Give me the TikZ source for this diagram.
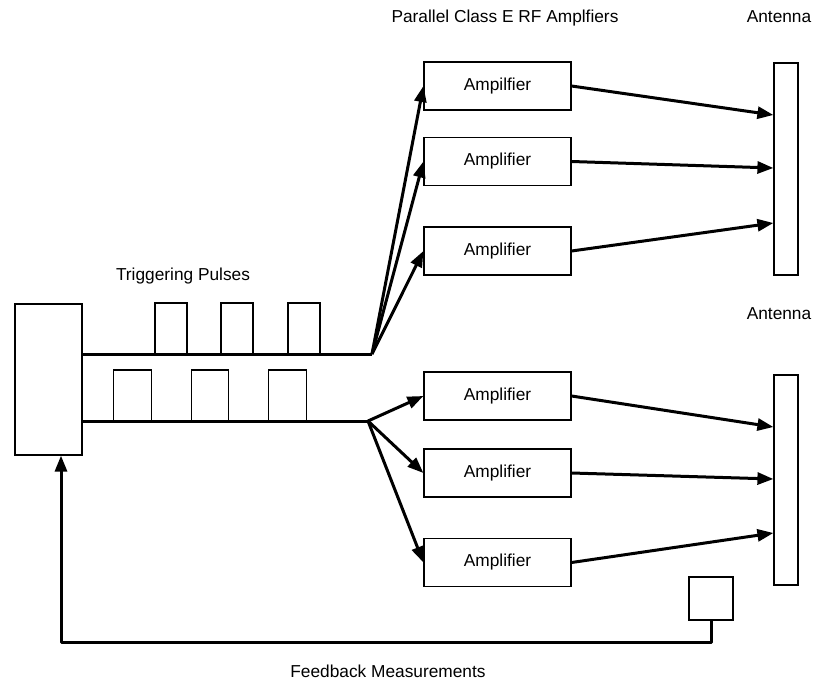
\documentclass[tikz,border=0pt]{standalone}
\usepackage{fontspec}
\setmainfont{Liberation Sans}
\usetikzlibrary{arrows.meta}
\begin{document}
\begin{tikzpicture}[x=1pt, y=-1pt,
    every node/.style={font=\fontsize{17.3}{20}\selectfont},
    box/.style={draw, line width=1.2pt, inner sep=0pt},
    amp/.style={box, minimum width=147pt, minimum height=48pt},
    pulse/.style={box, minimum height=51pt},
    wire/.style={line width=3pt, line join=round},
    label/.style={anchor=base, inner sep=0pt}]
    \useasboundingbox (0,0) rectangle (819,680);

    \node[box, minimum width=67pt, minimum height=151pt] (src) at (48.5,379.5) {};
    \node[amp] (a1) at (497.5,86) {Ampilfier};
    \node[amp] (a2) at (497.5,161.5) {Amplifier};
    \node[amp] (a3) at (497.5,251) {Amplifier};
    \node[amp] (a4) at (497.5,396) {Amplifier};
    \node[amp] (a5) at (497.5,473) {Amplifier};
    \node[amp] (a6) at (497.5,562.5) {Amplifier};
    \node[box, minimum width=24pt, minimum height=212pt] (ant1) at (786,169) {};
    \node[box, minimum width=24pt, minimum height=210pt] (ant2) at (786,480) {};
    \node[box, minimum width=44pt, minimum height=43pt] (fb) at (711,598.5) {};

    \node[pulse, minimum width=32pt] (p1) at (171,328.5) {};
    \node[pulse, minimum width=32pt] (p2) at (237,328.5) {};
    \node[pulse, minimum width=32pt] (p3) at (304,328.5) {};
    \node[pulse, minimum width=37.5pt] (p4) at (132.5,395.5) {};
    \node[pulse, minimum width=37.5pt] (p5) at (210,395.5) {};
    \node[pulse, minimum width=37.5pt] (p6) at (287.5,395.5) {};

    \coordinate (f1) at (372,354);
    \coordinate (f2) at (368,421);
    \coordinate (loop) at (61,642);

    \node[label] (t1) at (505,22.3) {Parallel Class E RF Amplfiers};
    \node[label] (t2) at (779,22) {Antenna};
    \node[label] (t3) at (779,319.5) {Antenna};
    \node[label] (t4) at (183,280) {Triggering Pulses};
    \node[label] (t5) at (388,677.5) {Feedback Measurements};

    \draw[wire] (src.east |- f1) -- (f1);
    \draw[wire] (src.east |- f2) -- (f2);

    \draw[wire, ->, >={Triangle[length=16pt, width=12pt]}]
    (f1) -- (a1.west);
    \draw[wire, ->, >={Triangle[length=16pt, width=12pt]}]
    (f1) -- (a2.west);
    \draw[wire, ->, >={Triangle[length=16pt, width=12pt]}]
    (f1) -- (a3.west);
    \draw[wire, ->, >={Triangle[length=16pt, width=12pt]}]
    (f2) -- (a4.west);
    \draw[wire, ->, >={Triangle[length=16pt, width=12pt]}]
    (f2) -- (a5.west);
    \draw[wire, ->, >={Triangle[length=16pt, width=12pt]}]
    (f2) -- (a6.west);

    \draw[wire, ->, >={Triangle[length=16pt, width=12pt]}]
    (a1.east) -- ([yshift=54pt]ant1.west);
    \draw[wire, ->, >={Triangle[length=16pt, width=12pt]}]
    (a2.east) -- ([yshift=1pt]ant1.west);
    \draw[wire, ->, >={Triangle[length=16pt, width=12pt]}]
    (a3.east) -- ([yshift=-54pt]ant1.west);
    \draw[wire, ->, >={Triangle[length=16pt, width=12pt]}]
    (a4.east) -- ([yshift=53pt]ant2.west);
    \draw[wire, ->, >={Triangle[length=16pt, width=12pt]}]
    (a5.east) -- ([yshift=1pt]ant2.west);
    \draw[wire, ->, >={Triangle[length=16pt, width=12pt]}]
    (a6.east) -- ([yshift=-53pt]ant2.west);

    \draw[wire, ->, >={Triangle[length=16pt, width=12pt]}]
    (fb.south) |- (loop) -- (loop |- src.south);
  \end{tikzpicture}
\end{document}
